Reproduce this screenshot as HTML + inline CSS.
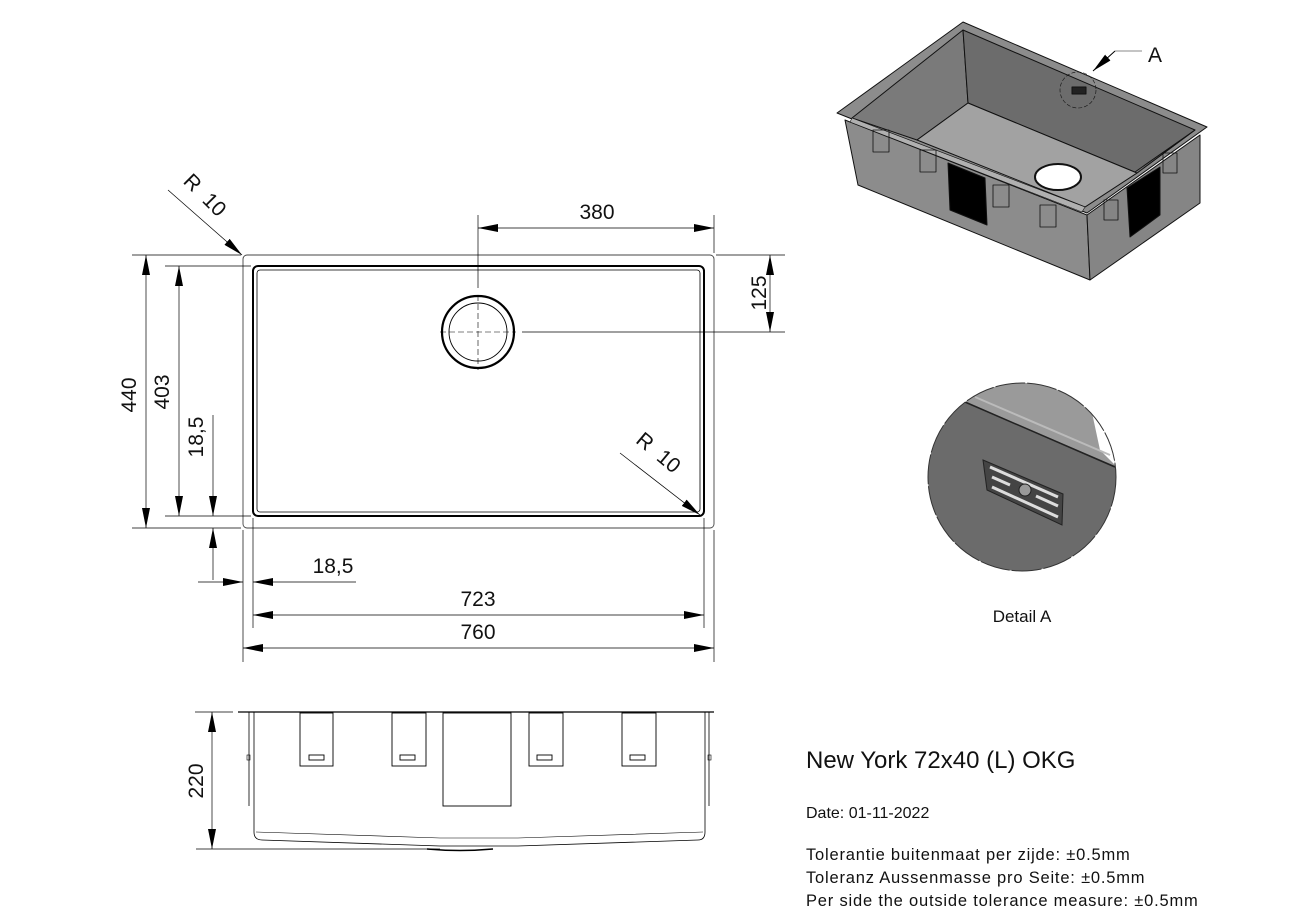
<!DOCTYPE html>
<html><head><meta charset="utf-8"><style>
html,body{margin:0;padding:0;background:#fff;}
svg{display:block;}
text{font-family:"Liberation Sans",Arial,sans-serif;fill:#111;}
</style></head><body>
<svg width="1291" height="912" viewBox="0 0 1291 912" xmlns="http://www.w3.org/2000/svg">
<defs>
<marker id="a" viewBox="0 0 20 8" refX="20" refY="4" markerWidth="20" markerHeight="8" markerUnits="userSpaceOnUse" orient="auto-start-reverse"><path d="M0,0 L20,4 L0,8 z" fill="#000"/></marker>
</defs>
<g stroke="#000" fill="none" stroke-width="0.9">
<rect x="243" y="255" width="471" height="273" rx="4" stroke="#444"/>
<rect x="253" y="266" width="451" height="250" rx="5" stroke-width="2"/>
<rect x="257" y="270" width="443" height="242" rx="3" stroke-width="0.8"/>
<circle cx="478" cy="332" r="36" stroke-width="2.2"/>
<circle cx="478" cy="332" r="29" stroke-width="0.9"/>
<line x1="440" y1="332" x2="516" y2="332" stroke-dasharray="6,3" stroke-width="0.6"/>
<line x1="478" y1="295" x2="478" y2="370" stroke-dasharray="6,3" stroke-width="0.6"/>
<line x1="478" y1="215" x2="478" y2="288" stroke-width="0.7"/>
<line x1="714" y1="215" x2="714" y2="253" stroke-width="0.7"/>
<line x1="478" y1="228" x2="714" y2="228" marker-start="url(#a)" marker-end="url(#a)" stroke-width="0.7"/>
<line x1="716" y1="255" x2="785" y2="255" stroke-width="0.7"/>
<line x1="522" y1="332" x2="785" y2="332" stroke-width="0.7"/>
<line x1="770" y1="255" x2="770" y2="332" marker-start="url(#a)" marker-end="url(#a)" stroke-width="0.7"/>
<line x1="132" y1="255" x2="241" y2="255" stroke-width="0.7"/>
<line x1="132" y1="528" x2="241" y2="528" stroke-width="0.7"/>
<line x1="146" y1="255" x2="146" y2="528" marker-start="url(#a)" marker-end="url(#a)" stroke-width="0.7"/>
<line x1="165" y1="266" x2="251" y2="266" stroke-width="0.7"/>
<line x1="165" y1="516" x2="251" y2="516" stroke-width="0.7"/>
<line x1="179" y1="266" x2="179" y2="516" marker-start="url(#a)" marker-end="url(#a)" stroke-width="0.7"/>
<line x1="213" y1="415" x2="213" y2="516" marker-end="url(#a)" stroke-width="0.7"/>
<line x1="213" y1="580" x2="213" y2="528" marker-end="url(#a)" stroke-width="0.7"/>
<line x1="168" y1="190" x2="242" y2="255" marker-end="url(#a)" stroke-width="0.7"/>
<line x1="620" y1="453" x2="700" y2="515" marker-end="url(#a)" stroke-width="0.7"/>
<line x1="243" y1="530" x2="243" y2="662" stroke-width="0.7"/>
<line x1="253" y1="518" x2="253" y2="628" stroke-width="0.7"/>
<line x1="704" y1="518" x2="704" y2="628" stroke-width="0.7"/>
<line x1="714" y1="530" x2="714" y2="662" stroke-width="0.7"/>
<line x1="198" y1="582" x2="243" y2="582" marker-end="url(#a)" stroke-width="0.7"/>
<line x1="356" y1="582" x2="253" y2="582" marker-end="url(#a)" stroke-width="0.7"/>
<line x1="253" y1="615" x2="704" y2="615" marker-start="url(#a)" marker-end="url(#a)" stroke-width="0.7"/>
<line x1="243" y1="648" x2="714" y2="648" marker-start="url(#a)" marker-end="url(#a)" stroke-width="0.7"/>
<line x1="238" y1="712" x2="714" y2="712" stroke-width="1.2"/>
<path d="M249,712 V806 M254,712 V832 Q254,840 262,840 L440,846 L518,846 L698,840 Q705,840 705,832 V712 M709,712 V806" stroke-width="0.8"/>
<path d="M256,832 L440,838 L518,838 L703,832" stroke-width="0.6"/>
<rect x="247" y="755" width="3" height="5" stroke-width="0.6"/>
<rect x="708" y="755" width="3" height="5" stroke-width="0.6"/>
<path d="M427,849 Q460,852 493,849" stroke-width="1.5"/>
<rect x="300" y="713" width="33" height="53"/>
<rect x="392" y="713" width="34" height="53"/>
<rect x="443" y="713" width="68" height="93"/>
<rect x="529" y="713" width="34" height="53"/>
<rect x="622" y="713" width="34" height="53"/>
<rect x="309" y="755" width="15" height="5"/>
<rect x="400" y="755" width="15" height="5"/>
<rect x="537" y="755" width="15" height="5"/>
<rect x="630" y="755" width="15" height="5"/>
<line x1="195" y1="712" x2="233" y2="712" stroke-width="0.7"/>
<line x1="196" y1="849" x2="440" y2="849" stroke-width="0.7"/>
<line x1="212" y1="712" x2="212" y2="849" marker-start="url(#a)" marker-end="url(#a)" stroke-width="0.7"/>
</g>
<text x="597" y="219" font-size="21" text-anchor="middle">380</text>
<text transform="translate(766,293) rotate(-90)" font-size="21" text-anchor="middle">125</text>
<text transform="translate(136,395) rotate(-90)" font-size="21" text-anchor="middle">440</text>
<text transform="translate(169,392) rotate(-90)" font-size="21" text-anchor="middle">403</text>
<text transform="translate(203,437) rotate(-90)" font-size="21" text-anchor="middle">18,5</text>
<text transform="translate(200,200) rotate(45)" font-size="21" text-anchor="middle">R&#160;&#160;10</text>
<text transform="translate(654,458) rotate(40)" font-size="21" text-anchor="middle">R&#160;&#160;10</text>
<text x="333" y="573" font-size="21" text-anchor="middle">18,5</text>
<text x="478" y="606" font-size="21" text-anchor="middle">723</text>
<text x="478" y="639" font-size="21" text-anchor="middle">760</text>
<text transform="translate(203,781) rotate(-90)" font-size="21" text-anchor="middle">220</text>
<!-- 3D render -->
<g stroke="#111" stroke-width="1" stroke-linejoin="round">
<polygon points="845,120 1087,215 1090,280 858,185" fill="#8c8c8c"/>
<polygon points="1087,215 1200,135 1200,203 1090,280" fill="#858585"/>
<polygon points="837,113 963,22 1207,127 1087,213" fill="#8c8c8c"/>
<polygon points="852,118 963,30 968,103 917,140" fill="#7a7a7a"/>
<polygon points="963,30 1195,130 1137,173 968,103" fill="#6c6c6c"/>
<polygon points="1195,130 1085,207 1137,173" fill="#7a7a7a"/>
<polygon points="968,103 1137,173 1085,207 917,140" fill="#a2a2a2"/>
<polygon points="852,118 1085,207 1082,212 850,122" fill="#b0b0b0" stroke-width="0.6"/>
<ellipse cx="1058" cy="177" rx="23" ry="13" fill="#fff" stroke-width="2"/>
<polygon points="948,163 985,178 987,225 950,210" fill="#000"/>
<polygon points="1127,188 1160,167 1160,215 1130,237" fill="#000"/>
<g fill="none" stroke-width="0.8">
<rect x="873" y="130" width="16" height="22"/><rect x="920" y="150" width="16" height="22"/>
<rect x="993" y="185" width="16" height="22"/><rect x="1040" y="205" width="16" height="22"/>
<rect x="1104" y="200" width="14" height="20"/><rect x="1163" y="153" width="14" height="20"/>
</g>
<rect x="1072" y="87" width="14" height="7" fill="#222"/>
<circle cx="1078" cy="90" r="18" fill="none" stroke-dasharray="4,2" stroke-width="0.6"/>
</g>
<line x1="1142" y1="51" x2="1115" y2="51" stroke="#888" stroke-width="1"/>
<line x1="1115" y1="51" x2="1093" y2="71" stroke="#000" stroke-width="1" marker-end="url(#a)"/>
<text x="1148" y="62" font-size="21">A</text>
<!-- detail A -->
<clipPath id="c"><circle cx="1022" cy="477" r="94"/></clipPath>
<g clip-path="url(#c)">
<rect x="920" y="380" width="210" height="200" fill="#6b6b6b"/>
<polygon points="920,393 965,402 1120,468 1120,380 920,380" fill="#9a9a9a"/>
<polygon points="1085,380 1120,380 1120,470 1100,450" fill="#fff"/>
<path d="M965,402 L1115,467" stroke="#222" stroke-width="1.5"/>
<path d="M975,397 L1110,455" stroke="#bbb" stroke-width="2"/>
<polygon points="983,460 1063,494 1062,525 987,490" fill="#444" stroke="#222"/>
<g stroke="#ddd" stroke-width="3"><line x1="990" y1="467" x2="1058" y2="497"/><line x1="992" y1="477" x2="1010" y2="485"/><line x1="1036" y1="496" x2="1058" y2="506"/><line x1="992" y1="487" x2="1058" y2="517"/></g>
<circle cx="1025" cy="490" r="6" fill="#999" stroke="#222"/>
</g>
<circle cx="1022" cy="477" r="94" fill="none" stroke="#333" stroke-width="1" stroke-dasharray="30,2"/>
<text x="1022" y="622" font-size="17" text-anchor="middle">Detail A</text>
<text x="806" y="768" font-size="24">New York 72x40 (L) OKG</text>
<text x="806" y="818" font-size="16">Date: 01-11-2022</text>
<text x="806" y="860" font-size="16.5" letter-spacing="0.8">Tolerantie buitenmaat per zijde: ±0.5mm</text>
<text x="806" y="883" font-size="16.5" letter-spacing="0.8">Toleranz Aussenmasse pro Seite: ±0.5mm</text>
<text x="806" y="906" font-size="16.5" letter-spacing="0.8">Per side the outside tolerance measure: ±0.5mm</text>
</svg>
</body></html>
